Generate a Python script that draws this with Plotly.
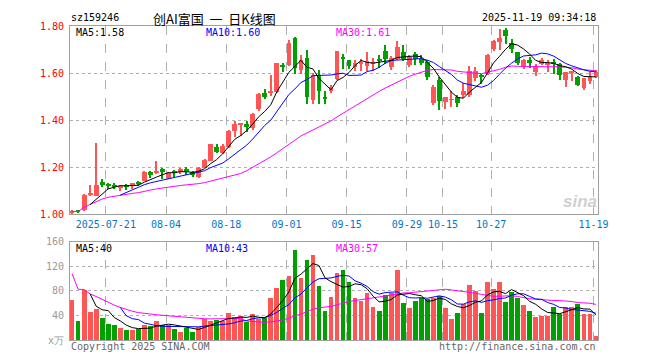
import plotly.graph_objects as go
import pandas as pd

# ---------------- data ----------------
opens = [1.008, 1.016, 1.018, 1.084, 1.080, 1.136, 1.127, 1.126, 1.114, 1.122,
         1.128, 1.138, 1.143, 1.182, 1.178, 1.194, 1.155, 1.182, 1.182, 1.193,
         1.178, 1.160, 1.197, 1.228, 1.288, 1.260, 1.286, 1.353, 1.380, 1.385,
         1.365, 1.446, 1.515, 1.516, 1.518, 1.635, 1.633, 1.750, 1.613, 1.665,
         1.485, 1.590, 1.495, 1.525, 1.575, 1.668, 1.654, 1.625, 1.642, 1.630,
         1.640, 1.656, 1.692, 1.628, 1.662, 1.690, 1.635, 1.682, 1.660, 1.647,
         1.471, 1.570, 1.478, 1.486, 1.500, 1.505, 1.508, 1.578, 1.592, 1.595,
         1.703, 1.730, 1.783, 1.726, 1.689, 1.629, 1.657, 1.605, 1.640, 1.638,
         1.642, 1.640, 1.571, 1.602, 1.582, 1.536, 1.568, 1.582]
highs = [1.018, 1.018, 1.085, 1.125, 1.305, 1.152, 1.135, 1.135, 1.125, 1.130,
         1.133, 1.142, 1.185, 1.183, 1.225, 1.196, 1.180, 1.190, 1.195, 1.203,
         1.186, 1.200, 1.235, 1.300, 1.300, 1.297, 1.358, 1.397, 1.389, 1.395,
         1.432, 1.515, 1.532, 1.594, 1.645, 1.645, 1.742, 1.752, 1.675, 1.699,
         1.600, 1.615, 1.525, 1.550, 1.692, 1.680, 1.655, 1.655, 1.658, 1.690,
         1.665, 1.675, 1.720, 1.672, 1.737, 1.720, 1.675, 1.690, 1.675, 1.657,
         1.550, 1.585, 1.500, 1.525, 1.505, 1.560, 1.630, 1.627, 1.595, 1.680,
         1.740, 1.789, 1.792, 1.745, 1.690, 1.660, 1.670, 1.640, 1.665, 1.657,
         1.660, 1.645, 1.606, 1.606, 1.587, 1.580, 1.605, 1.612]
lows = [1.000, 1.010, 1.013, 1.080, 1.078, 1.118, 1.110, 1.108, 1.098, 1.105,
        1.110, 1.120, 1.140, 1.155, 1.172, 1.152, 1.152, 1.160, 1.170, 1.168,
        1.158, 1.155, 1.195, 1.225, 1.262, 1.256, 1.280, 1.329, 1.335, 1.348,
        1.360, 1.440, 1.488, 1.502, 1.515, 1.605, 1.630, 1.595, 1.595, 1.470,
        1.470, 1.470, 1.467, 1.515, 1.572, 1.617, 1.618, 1.610, 1.610, 1.610,
        1.610, 1.620, 1.640, 1.615, 1.655, 1.650, 1.628, 1.633, 1.634, 1.572,
        1.465, 1.445, 1.447, 1.455, 1.458, 1.495, 1.500, 1.568, 1.555, 1.590,
        1.695, 1.700, 1.725, 1.685, 1.636, 1.616, 1.620, 1.587, 1.633, 1.605,
        1.596, 1.570, 1.540, 1.565, 1.545, 1.530, 1.555, 1.578]
closes = [1.015, 1.013, 1.083, 1.088, 1.124, 1.126, 1.122, 1.117, 1.122, 1.120,
          1.130, 1.130, 1.182, 1.168, 1.182, 1.180, 1.175, 1.178, 1.193, 1.180,
          1.167, 1.197, 1.233, 1.300, 1.266, 1.289, 1.355, 1.383, 1.381, 1.370,
          1.428, 1.511, 1.497, 1.522, 1.643, 1.628, 1.726, 1.620, 1.654, 1.497,
          1.592, 1.525, 1.492, 1.540, 1.692, 1.658, 1.630, 1.642, 1.647, 1.650,
          1.643, 1.652, 1.661, 1.664, 1.712, 1.658, 1.668, 1.662, 1.645, 1.585,
          1.543, 1.480, 1.499, 1.490, 1.472, 1.526, 1.610, 1.610, 1.584, 1.675,
          1.737, 1.751, 1.758, 1.703, 1.645, 1.654, 1.643, 1.626, 1.657, 1.642,
          1.640, 1.592, 1.605, 1.604, 1.550, 1.578, 1.582, 1.605]
volumes = [65, 32, 81, 46, 51, 36, 26, 24, 19, 16,
           16, 18, 24, 23, 32, 25, 25, 18, 13, 20,
           14, 21, 35, 31, 33, 32, 45, 38, 39, 30,
           43, 35, 36, 68, 85, 98, 105, 147, 101, 131,
           139, 89, 47, 70, 110, 115, 94, 69, 63, 77,
           54, 48, 74, 77, 114, 61, 53, 64, 69, 67,
           69, 72, 53, 34, 45, 59, 90, 80, 45, 94,
           83, 94, 62, 78, 69, 58, 48, 38, 40, 40,
           54, 43, 54, 54, 59, 43, 42, 6]
# the session before the first visible candle (feeds the moving averages)
prior_close = [1.010]
prior_volume = [151]

date_labels = ["2025-07-21", "08-04", "08-18", "09-01", "09-15",
               "09-29", "10-15", "10-27", "11-19"]
date_index = [6, 16, 26, 36, 46, 56, 62, 70, 87]
price_ticks = [1.00, 1.20, 1.40, 1.60, 1.80]
price_tick_text = ["1.00", "1.20", "1.40", "1.60", "1.80"]
volume_ticks = [0, 40, 80, 120, 160]
volume_tick_text = ["x万", "40", "80", "120", "160"]

ma_price_text = ["MA5:1.58", "MA10:1.60", "MA30:1.61"]
ma_volume_text = ["MA5:40", "MA10:43", "MA30:57"]

# ---------------- derived ----------------
n = len(closes)
x = list(range(n))
RED, GREEN = "#ff5555", "#00a000"
colors = [RED if c >= o else GREEN for o, c in zip(opens, closes)]

c_all = pd.Series(prior_close + closes)
v_all = pd.Series(prior_volume + volumes)
ma5 = c_all.rolling(5).mean().iloc[1:].tolist()
ma10 = c_all.rolling(10).mean().iloc[1:].tolist()
ma30 = c_all.rolling(30, min_periods=1).mean().iloc[1:].tolist()
vma5 = v_all.rolling(5).mean().iloc[1:].tolist()
vma10 = v_all.rolling(10).mean().iloc[1:].tolist()
vma30 = v_all.rolling(30, min_periods=1).mean().iloc[1:].tolist()

body_base = [min(o, c) for o, c in zip(opens, closes)]
body_h = [max(abs(c - o), 0.004) for o, c in zip(opens, closes)]
wick_h = [h - l for h, l in zip(highs, lows)]

fig = go.Figure()
fig.add_trace(go.Bar(x=x, y=wick_h, base=lows, width=0.17, marker=dict(color=colors, line=dict(width=0)),
                     xaxis="x", yaxis="y", hoverinfo="skip"))
fig.add_trace(go.Bar(x=x, y=body_h, base=body_base, width=0.78, marker=dict(color=colors, line=dict(width=0)),
                     xaxis="x", yaxis="y", hoverinfo="skip"))
for vals, col in [(ma30, "#ff00ff"), (ma10, "#0000ff"), (ma5, "#000000")]:
    fig.add_trace(go.Scatter(x=x, y=vals, mode="lines", line=dict(color=col, width=1),
                             xaxis="x", yaxis="y", hoverinfo="skip"))
fig.add_trace(go.Bar(x=x, y=volumes, width=0.78, marker=dict(color=colors, line=dict(width=0)),
                     xaxis="x2", yaxis="y2", hoverinfo="skip"))
for vals, col in [(vma30, "#ff00ff"), (vma10, "#0000ff"), (vma5, "#000000")]:
    fig.add_trace(go.Scatter(x=x, y=vals, mode="lines", line=dict(color=col, width=1),
                             xaxis="x2", yaxis="y2", hoverinfo="skip"))

# the page body has an 8px margin: the figure sits at (8, 8) in the window
OFF = 8
W, H = 660 - OFF, 360 - OFF
L, R, T, B = 70 - OFF, 62, 20 - OFF, 20
PW, PH = W - L - R, H - T - B


def px(v):   # window pixel x -> paper
    return (v - 70) / PW


def py(v):   # window pixel y -> paper
    return (340 - v) / PH


MONO = "DejaVu Sans Mono"
xr = [-0.35, n - 1 + 0.35]
grid_x = [i - 0.4 for i in date_index]

axis_common = dict(showline=True, mirror=True, linecolor="#a0a0a0", linewidth=1,
                   zeroline=False, ticks="", fixedrange=True)

fig.update_layout(
    width=W, height=H, margin=dict(l=L, r=R, t=T, b=B, pad=0),
    paper_bgcolor="white", plot_bgcolor="white",
    showlegend=False, barmode="overlay", bargap=0,
    xaxis=dict(domain=[0, 1], anchor="y", range=xr, tickmode="array", tickvals=grid_x,
               ticktext=date_labels, tickfont=dict(family=MONO, size=10, color="#0077cc"),
               showgrid=True, gridcolor="#b0b0b0", griddash="dash", gridwidth=1,
               ticklabelstandoff=1, **axis_common),
    yaxis=dict(domain=[py(212), 1], anchor="x", range=[1.0, 1.8], tickmode="array",
               tickvals=price_ticks, ticktext=price_tick_text,
               tickfont=dict(family=MONO, size=10, color="#ff0000"),
               showgrid=True, gridcolor="#b0b0b0", griddash="dot", gridwidth=1,
               ticklabelstandoff=3, **axis_common),
    xaxis2=dict(domain=[0, 1], anchor="y2", range=xr, tickmode="array", tickvals=grid_x,
                showticklabels=False, showgrid=True, gridcolor="#b0b0b0", griddash="dash",
                gridwidth=1, **axis_common),
    yaxis2=dict(domain=[0, py(240)], anchor="x2", range=[0, 160], tickmode="array",
                tickvals=volume_ticks, ticktext=volume_tick_text,
                tickfont=dict(family=MONO, size=10, color="#999999"),
                showgrid=True, gridcolor="#b0b0b0", griddash="dot", gridwidth=1,
                ticklabelstandoff=3, **axis_common),
)

ann = []


def text(s, x0, y0, color="#000", size=10, anchor="left", family=MONO):
    ann.append(dict(text=s, x=px(x0), y=py(y0), xref="paper", yref="paper",
                    xanchor=anchor, yanchor="middle", showarrow=False,
                    font=dict(family=family, size=size, color=color)))


text("sz159246", 69, 11)
text("创AI富国&nbsp;&nbsp;一&nbsp;&nbsp;日K线图", 214, 12, size=13, anchor="center",
     family="Noto Sans CJK SC")
text("2025-11-19 09:34:18", 598, 11, anchor="right")
ma_cols = ["#000000", "#0000ff", "#ff00ff"]
for s, xx, col in zip(ma_price_text, [74, 204, 334], ma_cols):
    text(s, xx, 27, color=col)
for s, xx, col in zip(ma_volume_text, [74, 204, 334], ma_cols):
    text(s, xx, 247, color=col)
text("Copyright 2025 SINA.COM", 69, 347, color="#666666")
text("http://finance.sina.com.cn", 598, 347, color="#666666", anchor="right")
text("<b><i>sina</i></b>", 580, 199, color="#d0d0d0", size=17, anchor="center", family="Arial")
fig.update_layout(annotations=ann)

fig.write_html("out.html")
